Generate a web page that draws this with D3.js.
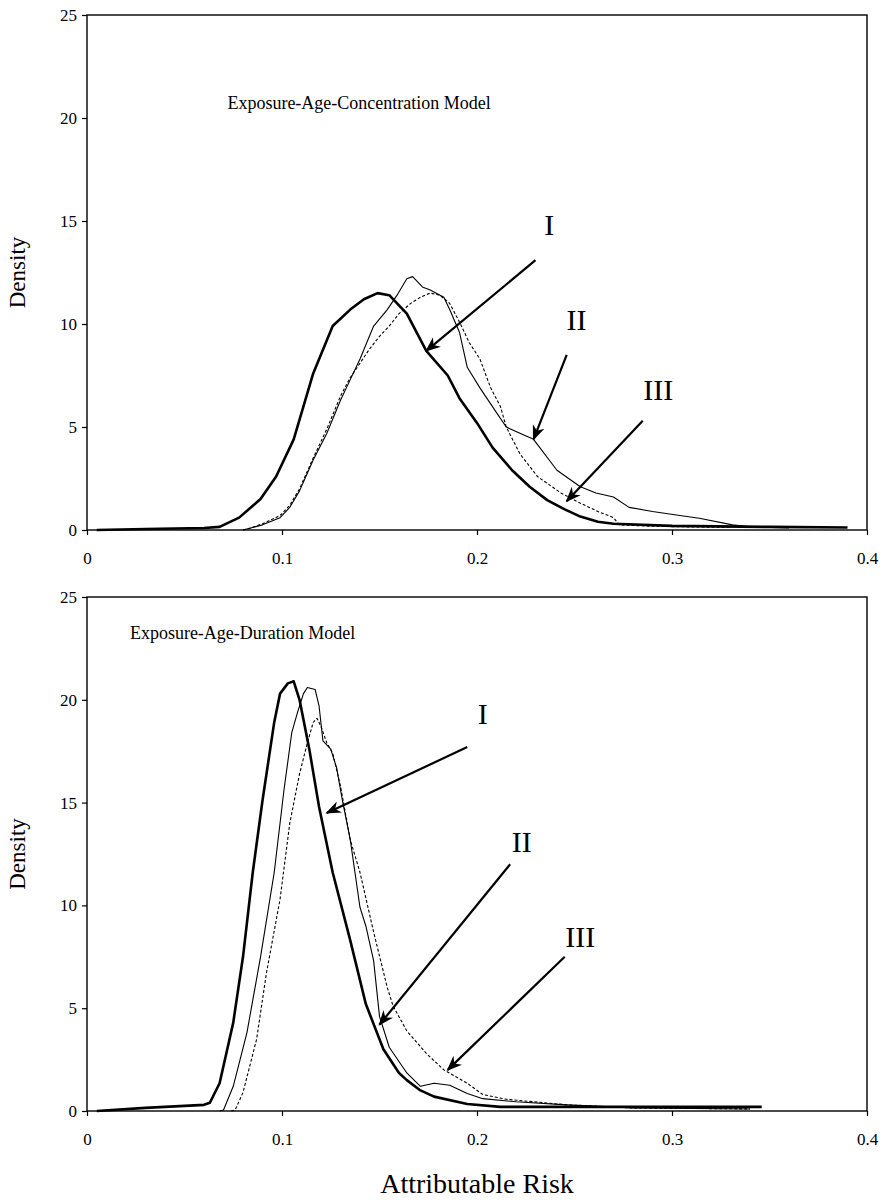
<!DOCTYPE html>
<html>
<head>
<meta charset="utf-8">
<script src="https://cdn.jsdelivr.net/npm/d3@7"></script>
<style>
  body { margin: 0; background: #fff; }
  text { font-family: "Liberation Serif", "DejaVu Serif", serif; fill: #000; }
</style>
</head>
<body>
<div id="chart"></div>
<script>
const width = 884, height = 1204;

// Exposure-Age-Concentration model: [attributable risk, density]
const concI = [[0.005,0],[0.03,0.05],[0.06,0.1],[0.068,0.15],[0.078,0.6],[0.089,1.5],[0.097,2.6],[0.106,4.4],[0.116,7.6],[0.126,9.9],[0.135,10.7],[0.142,11.2],[0.149,11.5],[0.155,11.4],[0.164,10.5],[0.174,8.7],[0.185,7.5],[0.191,6.4],[0.2,5.2],[0.208,4.0],[0.218,2.9],[0.227,2.1],[0.236,1.45],[0.245,1.0],[0.253,0.65],[0.262,0.4],[0.270,0.3],[0.3,0.2],[0.35,0.15],[0.39,0.12]];
const concII = [[0.08,0],[0.084,0.1],[0.09,0.25],[0.099,0.6],[0.104,1.1],[0.109,1.9],[0.116,3.4],[0.123,4.7],[0.130,6.3],[0.135,7.3],[0.140,8.3],[0.147,9.9],[0.154,10.7],[0.159,11.4],[0.164,12.2],[0.167,12.3],[0.172,11.8],[0.176,11.65],[0.183,11.3],[0.186,10.7],[0.191,9.6],[0.195,7.9],[0.2015,6.9],[0.21,5.7],[0.215,5.0],[0.222,4.7],[0.229,4.4],[0.241,2.9],[0.253,2.1],[0.261,1.8],[0.270,1.6],[0.278,1.1],[0.29,0.9],[0.304,0.7],[0.314,0.57],[0.331,0.25],[0.34,0.15],[0.36,0.1]];
const concIII = [[0.08,0],[0.084,0.1],[0.09,0.3],[0.099,0.7],[0.104,1.2],[0.109,2.0],[0.116,3.5],[0.123,4.9],[0.130,6.5],[0.135,7.4],[0.140,8.1],[0.145,8.8],[0.150,9.4],[0.155,9.9],[0.160,10.5],[0.166,11.0],[0.171,11.3],[0.176,11.5],[0.181,11.4],[0.186,11.0],[0.191,10.1],[0.196,9.1],[0.2015,8.3],[0.207,6.9],[0.212,6.0],[0.215,5.0],[0.222,3.7],[0.231,2.6],[0.243,1.8],[0.253,1.3],[0.262,0.9],[0.270,0.6],[0.273,0.25],[0.29,0.18],[0.33,0.12]];

// Exposure-Age-Duration model
const durI = [[0.005,0],[0.03,0.15],[0.06,0.3],[0.063,0.4],[0.068,1.35],[0.075,4.3],[0.080,7.5],[0.085,11.6],[0.090,15.1],[0.096,18.9],[0.099,20.3],[0.103,20.8],[0.106,20.9],[0.109,20.0],[0.114,17.6],[0.119,14.8],[0.126,11.6],[0.135,8.3],[0.143,5.2],[0.152,3.0],[0.160,1.85],[0.164,1.5],[0.171,1.0],[0.178,0.7],[0.195,0.34],[0.212,0.2],[0.25,0.2],[0.3,0.2],[0.346,0.2]];
const durII = [[0.068,0],[0.070,0.05],[0.075,1.2],[0.082,3.8],[0.089,7.5],[0.096,11.6],[0.101,15.6],[0.105,18.4],[0.108,19.4],[0.111,20.3],[0.113,20.6],[0.117,20.5],[0.119,19.7],[0.121,18.0],[0.125,17.6],[0.128,16.7],[0.131,15.1],[0.135,13.2],[0.140,9.9],[0.143,9.0],[0.147,7.3],[0.150,4.6],[0.155,3.1],[0.164,1.85],[0.171,1.2],[0.178,1.35],[0.186,1.25],[0.195,0.85],[0.203,0.6],[0.220,0.45],[0.246,0.3],[0.28,0.15],[0.34,0.1]];
const durIII = [[0.074,0],[0.076,0.05],[0.080,0.9],[0.087,3.5],[0.092,6.7],[0.099,10.3],[0.104,14.0],[0.109,16.4],[0.113,17.9],[0.116,18.9],[0.118,19.1],[0.120,18.7],[0.123,17.9],[0.126,17.4],[0.130,15.8],[0.135,13.2],[0.140,11.6],[0.147,8.7],[0.154,6.0],[0.157,5.1],[0.164,3.9],[0.174,2.8],[0.183,2.0],[0.195,1.35],[0.203,0.8],[0.215,0.57],[0.229,0.45],[0.246,0.3],[0.28,0.15],[0.34,0.1]];

const xTicks = [0, 0.1, 0.2, 0.3, 0.4];
const yTicks = [0, 5, 10, 15, 20, 25];
const seriesNames = ["I", "II", "III"];

// label / arrow anchors in data units: [label x, label y, arrow start x, y, arrow tip x, y]
const concNotes = [[0.237,14.3,0.230,13.1,0.174,8.7],[0.251,9.7,0.246,8.5,0.229,4.4],[0.293,6.3,0.285,5.3,0.246,1.4]];
const durNotes = [[0.203,18.8,0.195,17.7,0.123,14.5],[0.223,12.6,0.217,12.0,0.150,4.2],[0.253,8.0,0.245,7.5,0.185,2.0]];

const panels = [
  {title: "Exposure-Age-Concentration Model", top: 15, bottom: 530, series: [concI, concII, concIII], notes: concNotes, titleX: 0.072, titleY: 20.45},
  {title: "Exposure-Age-Duration Model", top: 597, bottom: 1111, series: [durI, durII, durIII], notes: durNotes, titleX: 0.022, titleY: 22.95}
];

const styles = [
  {w: 2.6, dash: null},
  {w: 1.1, dash: null},
  {w: 1.1, dash: "3,2"}
];

const svg = d3.select("#chart")
  .append("svg")
    .attr("width", width)
    .attr("height", height);

svg.append("defs")
  .append("marker")
    .attr("id", "head")
    .attr("viewBox", "0 0 10 10")
    .attr("refX", 9)
    .attr("refY", 5)
    .attr("markerWidth", 7)
    .attr("markerHeight", 7)
    .attr("markerUnits", "strokeWidth")
    .attr("orient", "auto")
  .append("path")
    .attr("d", "M0,1 L10,5 L0,9 L3,5 Z")
    .attr("fill", "#000");

const xScale = d3.scaleLinear().domain([0, 0.4]).range([87, 867]);

panels.forEach(p => {
  const yScale = d3.scaleLinear().domain([0, 25]).range([p.bottom, p.top]);
  const g = svg.append("g");

  // frame
  g.append("rect")
    .attr("x", xScale(0))
    .attr("y", yScale(25))
    .attr("width", xScale(0.4) - xScale(0))
    .attr("height", yScale(0) - yScale(25))
    .attr("fill", "none")
    .attr("stroke", "#000")
    .attr("stroke-width", 1.4);

  const xAxis = g.append("g")
    .attr("transform", `translate(0,${yScale(0)})`)
    .call(d3.axisBottom(xScale).tickValues(xTicks).tickSize(5).tickPadding(17).tickFormat(d => d === 0 ? "0" : d3.format(".1f")(d)));
  const yAxis = g.append("g")
    .attr("transform", `translate(${xScale(0)},0)`)
    .call(d3.axisLeft(yScale).tickValues(yTicks).tickSize(5).tickPadding(5));

  [xAxis, yAxis].forEach(a => {
    a.select(".domain").remove();
    a.selectAll("line").attr("stroke", "#000").attr("stroke-width", 1.2);
    a.selectAll("text")
      .style("font-family", "'Liberation Serif', serif")
      .style("font-size", "17px")
      .attr("fill", "#000");
  });

  const line = d3.line()
    .x(d => xScale(d[0]))
    .y(d => yScale(d[1]));

  g.selectAll(".curve")
    .data(p.series)
    .join("path")
      .attr("class", "curve")
      .attr("d", line)
      .attr("fill", "none")
      .attr("stroke", "#000")
      .attr("stroke-width", (d, i) => styles[i].w)
      .attr("stroke-dasharray", (d, i) => styles[i].dash)
      .attr("stroke-linejoin", "round");

  g.append("text")
    .attr("x", xScale(p.titleX))
    .attr("y", yScale(p.titleY))
    .style("font-size", "18px")
    .text(p.title);

  // roman numeral callouts with arrows
  p.notes.forEach((n, i) => {
    g.append("text")
      .attr("x", xScale(n[0]))
      .attr("y", yScale(n[1]))
      .attr("text-anchor", "middle")
      .style("font-size", "30px")
      .text(seriesNames[i]);
    g.append("line")
      .attr("x1", xScale(n[2]))
      .attr("y1", yScale(n[3]))
      .attr("x2", xScale(n[4]))
      .attr("y2", yScale(n[5]))
      .attr("stroke", "#000")
      .attr("stroke-width", 2.2)
      .attr("marker-end", "url(#head)");
  });

  g.append("text")
    .attr("transform", `translate(25,${(p.top + p.bottom) / 2}) rotate(-90)`)
    .attr("text-anchor", "middle")
    .style("font-size", "23px")
    .text("Density");
});

svg.append("text")
  .attr("x", (xScale(0) + xScale(0.4)) / 2)
  .attr("y", 1193)
  .attr("text-anchor", "middle")
  .style("font-size", "28px")
  .text("Attributable Risk");
</script>
</body>
</html>
